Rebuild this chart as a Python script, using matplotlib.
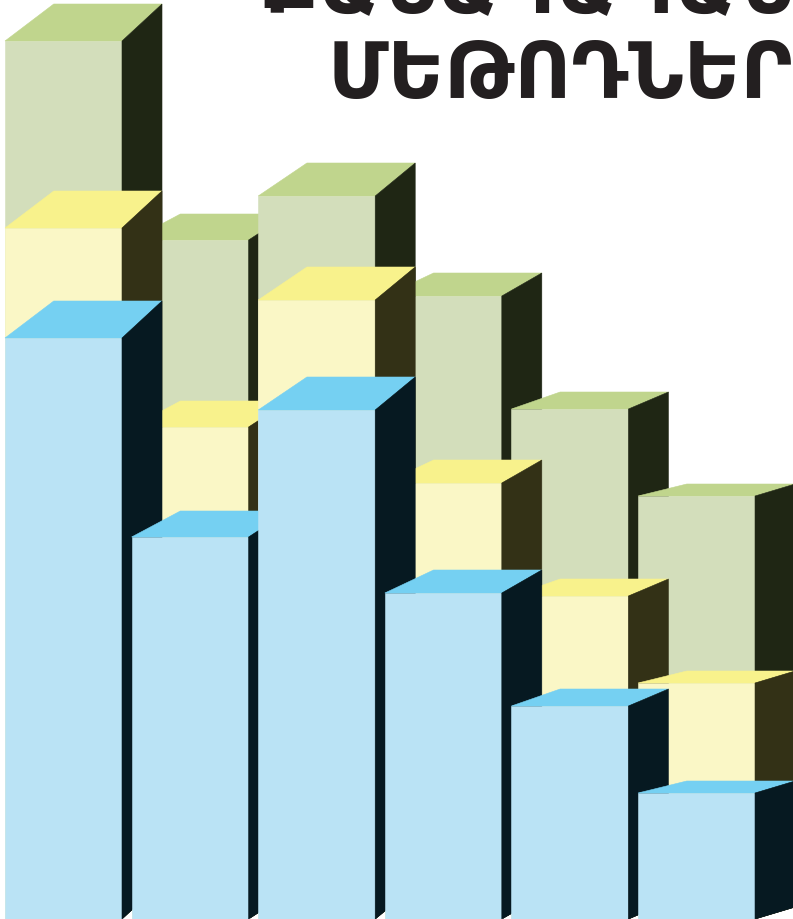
import numpy as np
import matplotlib.pyplot as plt
from matplotlib.patches import Polygon

# stacked values, bottom segment first (image is cropped at the baseline)
bars = np.arange(6)
blue = [581, 382, 509, 326, 213, 126]
yellow = [110, 110, 110, 110, 110, 110]
green = [187, 187, 104, 187, 187, 187]

title_top = 'ՔԱՆԱԿԱԿԱՆ'
title_bottom = 'ՄԵԹՈԴՆԵՐ'

# style: front / top / side colours for each layer
layers = [
    ('green', '#d3debb', '#c0d58d', '#1f2614'),
    ('yellow', '#faf7c6', '#f8f28c', '#333116'),
    ('blue', '#bae3f5', '#75d0f2', '#061921'),
]
width = 0.924
depth_dy = [37, 26, 33, 23, 17, 12]   # perspective differs per bar
depth_dxl = 0.385
depth_dxr = 0.316

blue = np.array(blue)
yellow = np.array(yellow)
green = np.array(green)
tops = {'blue': blue, 'yellow': blue + yellow, 'green': blue + yellow + green}

fig = plt.figure(figsize=(7.93, 9.19), dpi=100)
ax = fig.add_axes([0, 0, 1, 1])
ax.set_xlim(-0.5016, 5.762)
ax.set_ylim(0, 919)
ax.axis('off')

# layers drawn back to front, each layer left to right
for li, (name, c_front, c_top, c_side) in enumerate(layers):
    h = tops[name]
    for i in bars:
        z = 10 + li * 100 + i * 3
        ax.bar(i, h[i], width=width, bottom=0, color=c_front,
               edgecolor=c_front, linewidth=0.4, zorder=z)
        xl = i - width / 2
        xr = i + width / 2
        dy = depth_dy[i]
        top = [(xl, h[i]), (xr, h[i]), (xr + depth_dxr, h[i] + dy), (xl + depth_dxl, h[i] + dy)]
        ax.add_patch(Polygon(top, closed=True, facecolor=c_top, edgecolor=c_top,
                             linewidth=0.4, zorder=z + 1))
        side = [(xr, 0), (xr + depth_dxr, dy), (xr + depth_dxr, h[i] + dy), (xr, h[i])]
        ax.add_patch(Polygon(side, closed=True, facecolor=c_side, edgecolor=c_side,
                             linewidth=0.4, zorder=z + 2))

fig.text(1.0, 1 - 98 / 919, title_bottom, ha='right', va='baseline',
         fontsize=56, fontweight='bold', color='#231f20', family='DejaVu Sans')
fig.text(1.0, 1 - 12 / 919, title_top, ha='right', va='baseline',
         fontsize=56, fontweight='bold', color='#231f20', family='DejaVu Sans')

fig.savefig('out.png', dpi=100, facecolor='white')
